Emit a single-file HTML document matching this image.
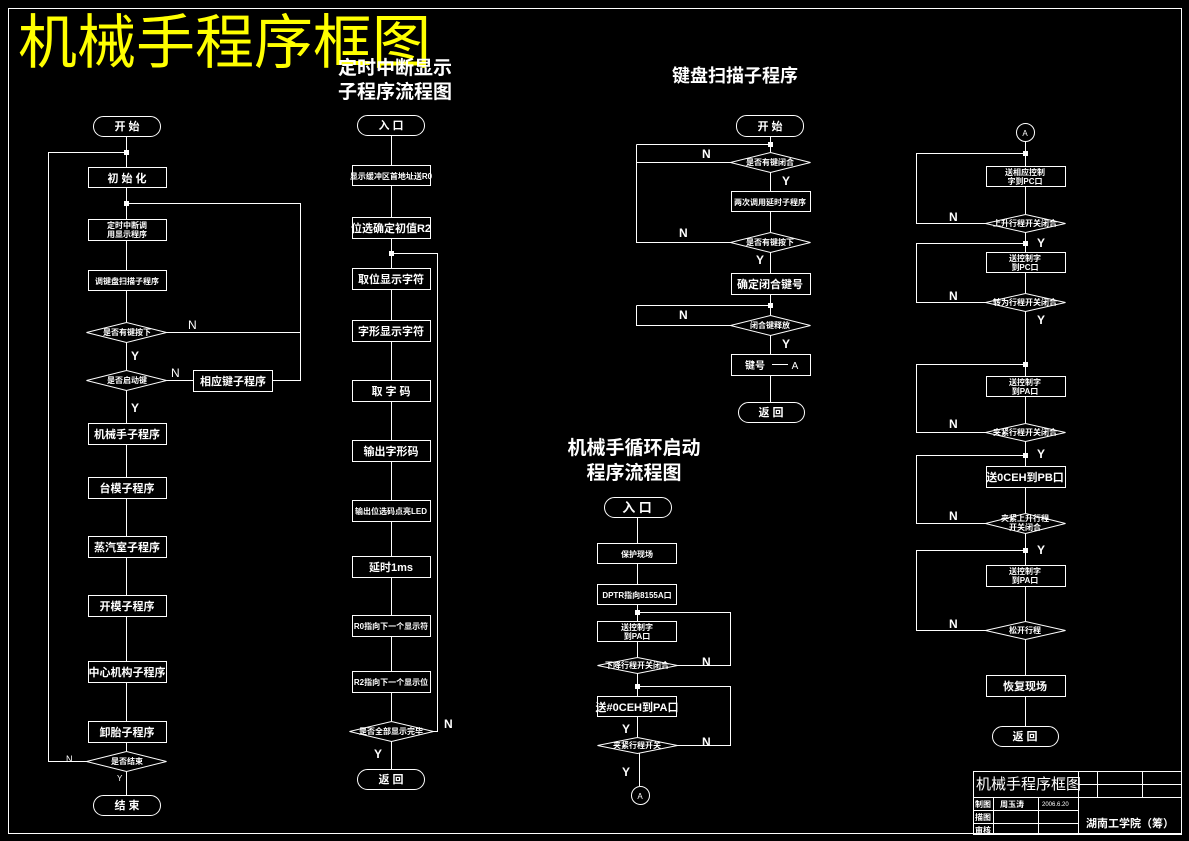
<!DOCTYPE html>
<html><head><meta charset="utf-8"><style>
html,body{margin:0;padding:0;background:#000;}
svg{display:block;}
text{fill:#fff;font-family:"Liberation Sans","Noto Sans CJK SC",sans-serif;}
.s{font-size:8px;font-weight:bold;}
.m{font-size:11px;font-weight:bold;}
.t{font-size:19px;font-weight:bold;}
</style></head><body>
<svg width="1189" height="841" viewBox="0 0 1189 841" xmlns="http://www.w3.org/2000/svg">
<g stroke="#fff" stroke-width="1" fill="none">
<rect x="8.5" y="8.5" width="1173" height="825"/>
<rect x="93.5" y="116.5" width="67" height="20" rx="10"/>
<rect x="88.5" y="167.5" width="78" height="20"/>
<rect x="88.5" y="219.5" width="78" height="21"/>
<rect x="88.5" y="270.5" width="78" height="20"/>
<polygon points="86.5,332.5 126.5,322.5 166.5,332.5 126.5,342.5"/>
<polygon points="86.5,380.5 126.5,370.5 166.5,380.5 126.5,390.5"/>
<rect x="193.5" y="370.5" width="79" height="21"/>
<rect x="88.5" y="423.5" width="78" height="21"/>
<rect x="88.5" y="477.5" width="78" height="21"/>
<rect x="88.5" y="536.5" width="78" height="21"/>
<rect x="88.5" y="595.5" width="78" height="21"/>
<rect x="88.5" y="661.5" width="78" height="21"/>
<rect x="88.5" y="721.5" width="78" height="21"/>
<polygon points="86.5,761.5 126.5,751.5 166.5,761.5 126.5,771.5"/>
<rect x="93.5" y="795.5" width="67" height="20" rx="10"/>
<path d="M126.5 136V167 M126.5 187V219 M126.5 240V270 M126.5 290V322 M126.5 342V370 M126.5 390V423 M126.5 444V477 M126.5 498V536 M126.5 557V595 M126.5 616V661 M126.5 682V721 M126.5 742V751 M126.5 771V795"/>
<path d="M86.5 761.5H48.5V152.5H126.5"/>
<path d="M166.5 332.5H300.5V203.5H126.5 M166.5 380.5H193.5 M272.5 380.5H300.5V332.5"/>
<rect x="357.5" y="115.5" width="67" height="20" rx="10"/>
<rect x="352.5" y="165.5" width="78" height="20"/>
<rect x="352.5" y="217.5" width="78" height="21"/>
<rect x="352.5" y="268.5" width="78" height="21"/>
<rect x="352.5" y="320.5" width="78" height="21"/>
<rect x="352.5" y="380.5" width="78" height="21"/>
<rect x="352.5" y="440.5" width="78" height="21"/>
<rect x="352.5" y="500.5" width="78" height="21"/>
<rect x="352.5" y="556.5" width="78" height="21"/>
<rect x="352.5" y="615.5" width="78" height="21"/>
<rect x="352.5" y="671.5" width="78" height="21"/>
<polygon points="349.5,731.5 391.5,721.5 433.5,731.5 391.5,741.5"/>
<rect x="357.5" y="769.5" width="67" height="20" rx="10"/>
<path d="M391.5 135V165 M391.5 185V217 M391.5 238V268 M391.5 289V320 M391.5 341V380 M391.5 401V440 M391.5 461V500 M391.5 521V556 M391.5 577V615 M391.5 636V671 M391.5 692V721 M391.5 741V769"/>
<path d="M433.5 731.5H437.5V253.5H391.5"/>
<rect x="736.5" y="115.5" width="67" height="21" rx="10"/>
<polygon points="730.5,162.5 770.5,152.5 810.5,162.5 770.5,172.5"/>
<rect x="731.5" y="191.5" width="79" height="20"/>
<polygon points="730.5,242.5 770.5,232.5 810.5,242.5 770.5,252.5"/>
<rect x="731.5" y="273.5" width="79" height="21"/>
<polygon points="730.5,325.5 770.5,315.5 810.5,325.5 770.5,335.5"/>
<rect x="731.5" y="354.5" width="79" height="21"/>
<rect x="738.5" y="402.5" width="66" height="20" rx="10"/>
<path d="M770.5 136V152 M770.5 172V191 M770.5 211V232 M770.5 252V273 M770.5 294V315 M770.5 335V354 M770.5 375V402"/>
<path d="M730.5 162.5H636.5 M636.5 144.5H770.5 M636.5 144.5V242.5H730.5"/>
<path d="M636.5 305.5H770.5 M636.5 305.5V325.5H730.5"/>
<path d="M772 364.5H788"/>
<rect x="604.5" y="497.5" width="67" height="20" rx="10"/>
<rect x="597.5" y="543.5" width="79" height="20"/>
<rect x="597.5" y="584.5" width="79" height="20"/>
<rect x="597.5" y="621.5" width="79" height="20"/>
<polygon points="597.5,665.5 637.5,657.5 677.5,665.5 637.5,673.5"/>
<rect x="597.5" y="696.5" width="79" height="20"/>
<polygon points="597.5,745.5 637.5,737.5 677.5,745.5 637.5,753.5"/>
<circle cx="640.5" cy="795.5" r="9"/>
<path d="M637.5 517V543 M637.5 563V584 M637.5 604V621 M637.5 641V657 M637.5 673V696 M637.5 716V737 M639.5 753V786"/>
<path d="M677.5 665.5H730.5V612.5H637.5 M677.5 745.5H730.5V686.5H637.5"/>
<circle cx="1025.5" cy="132.5" r="9"/>
<rect x="986.5" y="166.5" width="79" height="20"/>
<polygon points="985.5,223.5 1025.5,214.5 1065.5,223.5 1025.5,232.5"/>
<rect x="986.5" y="252.5" width="79" height="20"/>
<polygon points="985.5,302.5 1025.5,293.5 1065.5,302.5 1025.5,311.5"/>
<rect x="986.5" y="376.5" width="79" height="20"/>
<polygon points="985.5,432.5 1025.5,423.5 1065.5,432.5 1025.5,441.5"/>
<rect x="986.5" y="466.5" width="79" height="21"/>
<polygon points="985.5,523.5 1025.5,513.5 1065.5,523.5 1025.5,533.5"/>
<rect x="986.5" y="565.5" width="79" height="21"/>
<polygon points="985.5,630.5 1025.5,621.5 1065.5,630.5 1025.5,639.5"/>
<rect x="986.5" y="675.5" width="79" height="21"/>
<rect x="992.5" y="726.5" width="66" height="20" rx="10"/>
<path d="M1025.5 141V166 M1025.5 186V214 M1025.5 232V252 M1025.5 272V293 M1025.5 311V376 M1025.5 396V423 M1025.5 441V466 M1025.5 487V513 M1025.5 533V565 M1025.5 586V621 M1025.5 639V675 M1025.5 696V726"/>
<path d="M985.5 223.5H916.5V153.5H1025.5 M985.5 302.5H916.5V243.5H1025.5 M985.5 432.5H916.5V364.5H1025.5 M985.5 523.5H916.5V455.5H1025.5 M985.5 630.5H916.5V550.5H1025.5"/>
<rect x="973.5" y="771.5" width="208" height="63"/>
<path d="M973.5 797.5H1078.5 M973.5 810.5H1078.5 M973.5 823.5H1078.5 M1078.5 771.5V834.5 M1078.5 784.5H1181.5 M1078.5 797.5H1181.5 M1097.5 771.5V797.5 M1142.5 771.5V797.5 M993.5 797.5V834.5 M1038.5 797.5V834.5"/>
</g>
<g fill="#fff">
<rect x="124" y="150" width="5" height="5"/><rect x="124" y="201" width="5" height="5"/><rect x="389" y="251" width="5" height="5"/>
<rect x="768" y="142" width="5" height="5"/><rect x="768" y="303" width="5" height="5"/><rect x="635" y="610" width="5" height="5"/><rect x="635" y="684" width="5" height="5"/>
<rect x="1023" y="151" width="5" height="5"/><rect x="1023" y="241" width="5" height="5"/><rect x="1023" y="362" width="5" height="5"/><rect x="1023" y="453" width="5" height="5"/><rect x="1023" y="548" width="5" height="5"/>
</g>
<text x="18" y="63" style="font-size:59px;fill:#ff0;">机械手程序框图</text>
<text x="338" y="74" class="t">定时中断显示</text>
<text x="338" y="98" class="t">子程序流程图</text>
<text x="672" y="82" style="font-size:18px;font-weight:bold">键盘扫描子程序</text>
<text x="634" y="454" class="t" text-anchor="middle">机械手循环启动</text>
<text x="634" y="479" class="t" text-anchor="middle">程序流程图</text>
<g class="m" text-anchor="middle">
<text x="127" y="130">开 始</text>
<text x="127" y="182">初 始 化</text>
<text x="127" y="438">机械手子程序</text>
<text x="127" y="492">台模子程序</text>
<text x="127" y="551">蒸汽室子程序</text>
<text x="127" y="610">开模子程序</text>
<text x="127" y="676">中心机构子程序</text>
<text x="127" y="736">卸胎子程序</text>
<text x="127" y="809">结 束</text>
<text x="233" y="385">相应键子程序</text>
<text x="391" y="129">入 口</text>
<text x="391" y="232">位选确定初值R2</text>
<text x="391" y="283">取位显示字符</text>
<text x="391" y="335">字形显示字符</text>
<text x="391" y="395">取 字 码</text>
<text x="391" y="455">输出字形码</text>
<text x="391" y="571">延时1ms</text>
<text x="391" y="783">返 回</text>
<text x="770" y="130">开 始</text>
<text x="770" y="288">确定闭合键号</text>
<text x="771" y="416">返 回</text>
<text x="637" y="512" style="font-size:13px">入 口</text>
<text x="637" y="711">送#0CEH到PA口</text>
<text x="1025" y="481">送0CEH到PB口</text>
<text x="1025" y="690">恢复现场</text>
<text x="1025" y="740">返 回</text>
</g>
<g class="s" text-anchor="middle">
<text x="127" y="228">定时中断调</text><text x="127" y="237">用显示程序</text>
<text x="127" y="284">调键盘扫描子程序</text>
<text x="127" y="335">是否有键按下</text>
<text x="127" y="383">是否启动键</text>
<text x="127" y="764">是否结束</text>
<text x="391" y="179">显示缓冲区首地址送R0</text>
<text x="391" y="514">输出位选码点亮LED</text>
<text x="391" y="629">R0指向下一个显示符</text>
<text x="391" y="685">R2指向下一个显示位</text>
<text x="391" y="734">是否全部显示完毕</text>
<text x="770" y="165">是否有键闭合</text>
<text x="770" y="205">两次调用延时子程序</text>
<text x="770" y="245">是否有键按下</text>
<text x="770" y="328">闭合键释放</text>
<text x="755" y="369" style="font-size:10px">键号</text>
<text x="795" y="369" style="font-size:10px;font-weight:normal">A</text>
<text x="637" y="557">保护现场</text>
<text x="637" y="598">DPTR指向8155A口</text>
<text x="637" y="630">送控制字</text><text x="637" y="639">到PA口</text>
<text x="637" y="668">下降行程开关闭合</text>
<text x="637" y="748">夹紧行程开关</text>
<text x="640" y="799" style="font-weight:normal">A</text>
<text x="1025" y="136" style="font-weight:normal">A</text>
<text x="1025" y="175">送相应控制</text><text x="1025" y="184">字到PC口</text>
<text x="1025" y="226">上升行程开关闭合</text>
<text x="1025" y="261">送控制字</text><text x="1025" y="270">到PC口</text>
<text x="1025" y="305">转为行程开关闭合</text>
<text x="1025" y="385">送控制字</text><text x="1025" y="394">到PA口</text>
<text x="1025" y="435">夹紧行程开关闭合</text>
<text x="1025" y="521">夹紧上升行程</text><text x="1025" y="530">开关闭合</text>
<text x="1025" y="574">送控制字</text><text x="1025" y="583">到PA口</text>
<text x="1025" y="633">松开行程</text>
</g>
<g style="font-size:12px">
<text x="188" y="329">N</text><text x="171" y="377">N</text>
<text x="131" y="360" style="font-weight:bold">Y</text><text x="131" y="412" style="font-weight:bold">Y</text>
<text x="66" y="762" style="font-size:9px">N</text><text x="117" y="781" style="font-size:8px">Y</text>
<text x="444" y="728" style="font-weight:bold">N</text><text x="374" y="758" style="font-weight:bold">Y</text>
<text x="702" y="158" style="font-weight:bold">N</text><text x="782" y="185" style="font-weight:bold">Y</text>
<text x="679" y="237" style="font-weight:bold">N</text><text x="756" y="264" style="font-weight:bold">Y</text>
<text x="679" y="319" style="font-weight:bold">N</text><text x="782" y="348" style="font-weight:bold">Y</text>
<text x="702" y="666" style="font-weight:bold">N</text><text x="702" y="746" style="font-weight:bold">N</text>
<text x="622" y="733" style="font-weight:bold">Y</text><text x="622" y="776" style="font-weight:bold">Y</text>
<text x="949" y="221" style="font-weight:bold">N</text><text x="1037" y="247" style="font-weight:bold">Y</text>
<text x="949" y="300" style="font-weight:bold">N</text><text x="1037" y="324" style="font-weight:bold">Y</text>
<text x="949" y="428" style="font-weight:bold">N</text><text x="1037" y="458" style="font-weight:bold">Y</text>
<text x="949" y="520" style="font-weight:bold">N</text><text x="1037" y="554" style="font-weight:bold">Y</text>
<text x="949" y="628" style="font-weight:bold">N</text>
</g>
<text x="976" y="789" style="font-size:15px">机械手程序框图</text>
<g class="s">
<text x="975" y="807">制图</text><text x="975" y="820">描图</text><text x="975" y="833">审核</text>
<text x="1000" y="807">周玉涛</text><text x="1042" y="806" style="font-size:6px;font-weight:normal">2006.6.20</text>
</g>
<text x="1086" y="827" style="font-size:11px;font-weight:bold">湖南工学院（筹）</text>
</svg>
</body></html>
